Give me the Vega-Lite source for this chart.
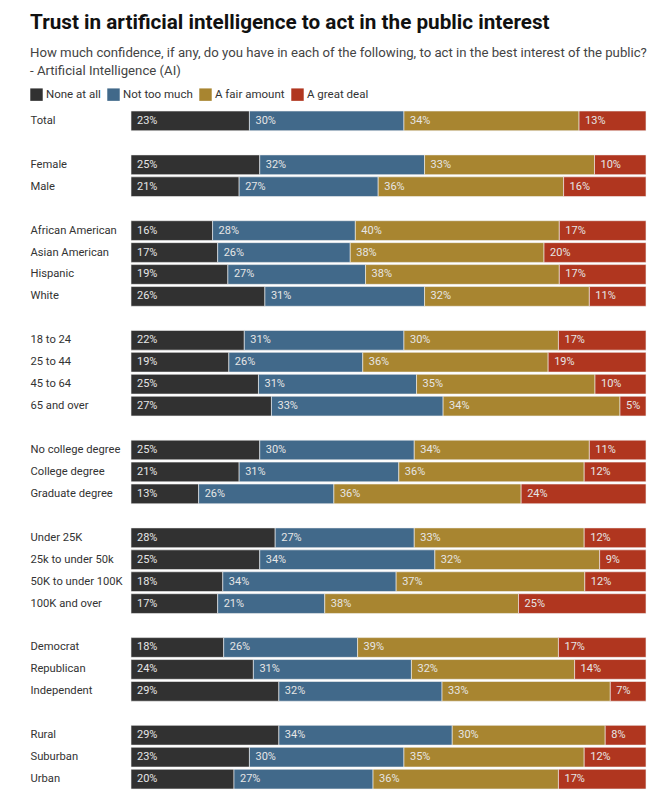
{
  "$schema": "https://vega.github.io/schema/vega-lite/v6.json",
  "width": 515,
  "height": 678,
  "autosize": {"type": "none"},
  "padding": {"left": 131, "top": 111, "right": 23, "bottom": 11},
  "background": "white",
  "config": {"font": "Roboto", "view": {"stroke": null}},
  "title": {
    "text": "Trust in artificial intelligence to act in the public interest",
    "subtitle": ["How much confidence, if any, do you have in each of the following, to act in the best interest of the public?", "- Artificial Intelligence (AI)"],
    "anchor": "start",
    "frame": "group",
    "dx": -101,
    "fontSize": 20.7,
    "fontWeight": "bold",
    "color": "#111111",
    "subtitleFontSize": 13.2,
    "subtitleColor": "#444444",
    "subtitleLineHeight": 18,
    "subtitlePadding": 13,
    "offset": 10
  },
  "data": {"values": [
    {"row": "Total", "cat": "None at all", "o": 1, "v": 23}, {"row": "Total", "cat": "Not too much", "o": 2, "v": 30}, {"row": "Total", "cat": "A fair amount", "o": 3, "v": 34}, {"row": "Total", "cat": "A great deal", "o": 4, "v": 13},
    {"row": "Female", "cat": "None at all", "o": 1, "v": 25}, {"row": "Female", "cat": "Not too much", "o": 2, "v": 32}, {"row": "Female", "cat": "A fair amount", "o": 3, "v": 33}, {"row": "Female", "cat": "A great deal", "o": 4, "v": 10},
    {"row": "Male", "cat": "None at all", "o": 1, "v": 21}, {"row": "Male", "cat": "Not too much", "o": 2, "v": 27}, {"row": "Male", "cat": "A fair amount", "o": 3, "v": 36}, {"row": "Male", "cat": "A great deal", "o": 4, "v": 16},
    {"row": "African American", "cat": "None at all", "o": 1, "v": 16}, {"row": "African American", "cat": "Not too much", "o": 2, "v": 28}, {"row": "African American", "cat": "A fair amount", "o": 3, "v": 40}, {"row": "African American", "cat": "A great deal", "o": 4, "v": 17},
    {"row": "Asian American", "cat": "None at all", "o": 1, "v": 17}, {"row": "Asian American", "cat": "Not too much", "o": 2, "v": 26}, {"row": "Asian American", "cat": "A fair amount", "o": 3, "v": 38}, {"row": "Asian American", "cat": "A great deal", "o": 4, "v": 20},
    {"row": "Hispanic", "cat": "None at all", "o": 1, "v": 19}, {"row": "Hispanic", "cat": "Not too much", "o": 2, "v": 27}, {"row": "Hispanic", "cat": "A fair amount", "o": 3, "v": 38}, {"row": "Hispanic", "cat": "A great deal", "o": 4, "v": 17},
    {"row": "White", "cat": "None at all", "o": 1, "v": 26}, {"row": "White", "cat": "Not too much", "o": 2, "v": 31}, {"row": "White", "cat": "A fair amount", "o": 3, "v": 32}, {"row": "White", "cat": "A great deal", "o": 4, "v": 11},
    {"row": "18 to 24", "cat": "None at all", "o": 1, "v": 22}, {"row": "18 to 24", "cat": "Not too much", "o": 2, "v": 31}, {"row": "18 to 24", "cat": "A fair amount", "o": 3, "v": 30}, {"row": "18 to 24", "cat": "A great deal", "o": 4, "v": 17},
    {"row": "25 to 44", "cat": "None at all", "o": 1, "v": 19}, {"row": "25 to 44", "cat": "Not too much", "o": 2, "v": 26}, {"row": "25 to 44", "cat": "A fair amount", "o": 3, "v": 36}, {"row": "25 to 44", "cat": "A great deal", "o": 4, "v": 19},
    {"row": "45 to 64", "cat": "None at all", "o": 1, "v": 25}, {"row": "45 to 64", "cat": "Not too much", "o": 2, "v": 31}, {"row": "45 to 64", "cat": "A fair amount", "o": 3, "v": 35}, {"row": "45 to 64", "cat": "A great deal", "o": 4, "v": 10},
    {"row": "65 and over", "cat": "None at all", "o": 1, "v": 27}, {"row": "65 and over", "cat": "Not too much", "o": 2, "v": 33}, {"row": "65 and over", "cat": "A fair amount", "o": 3, "v": 34}, {"row": "65 and over", "cat": "A great deal", "o": 4, "v": 5},
    {"row": "No college degree", "cat": "None at all", "o": 1, "v": 25}, {"row": "No college degree", "cat": "Not too much", "o": 2, "v": 30}, {"row": "No college degree", "cat": "A fair amount", "o": 3, "v": 34}, {"row": "No college degree", "cat": "A great deal", "o": 4, "v": 11},
    {"row": "College degree", "cat": "None at all", "o": 1, "v": 21}, {"row": "College degree", "cat": "Not too much", "o": 2, "v": 31}, {"row": "College degree", "cat": "A fair amount", "o": 3, "v": 36}, {"row": "College degree", "cat": "A great deal", "o": 4, "v": 12},
    {"row": "Graduate degree", "cat": "None at all", "o": 1, "v": 13}, {"row": "Graduate degree", "cat": "Not too much", "o": 2, "v": 26}, {"row": "Graduate degree", "cat": "A fair amount", "o": 3, "v": 36}, {"row": "Graduate degree", "cat": "A great deal", "o": 4, "v": 24},
    {"row": "Under 25K", "cat": "None at all", "o": 1, "v": 28}, {"row": "Under 25K", "cat": "Not too much", "o": 2, "v": 27}, {"row": "Under 25K", "cat": "A fair amount", "o": 3, "v": 33}, {"row": "Under 25K", "cat": "A great deal", "o": 4, "v": 12},
    {"row": "25k to under 50k", "cat": "None at all", "o": 1, "v": 25}, {"row": "25k to under 50k", "cat": "Not too much", "o": 2, "v": 34}, {"row": "25k to under 50k", "cat": "A fair amount", "o": 3, "v": 32}, {"row": "25k to under 50k", "cat": "A great deal", "o": 4, "v": 9},
    {"row": "50K to under 100K", "cat": "None at all", "o": 1, "v": 18}, {"row": "50K to under 100K", "cat": "Not too much", "o": 2, "v": 34}, {"row": "50K to under 100K", "cat": "A fair amount", "o": 3, "v": 37}, {"row": "50K to under 100K", "cat": "A great deal", "o": 4, "v": 12},
    {"row": "100K and over", "cat": "None at all", "o": 1, "v": 17}, {"row": "100K and over", "cat": "Not too much", "o": 2, "v": 21}, {"row": "100K and over", "cat": "A fair amount", "o": 3, "v": 38}, {"row": "100K and over", "cat": "A great deal", "o": 4, "v": 25},
    {"row": "Democrat", "cat": "None at all", "o": 1, "v": 18}, {"row": "Democrat", "cat": "Not too much", "o": 2, "v": 26}, {"row": "Democrat", "cat": "A fair amount", "o": 3, "v": 39}, {"row": "Democrat", "cat": "A great deal", "o": 4, "v": 17},
    {"row": "Republican", "cat": "None at all", "o": 1, "v": 24}, {"row": "Republican", "cat": "Not too much", "o": 2, "v": 31}, {"row": "Republican", "cat": "A fair amount", "o": 3, "v": 32}, {"row": "Republican", "cat": "A great deal", "o": 4, "v": 14},
    {"row": "Independent", "cat": "None at all", "o": 1, "v": 29}, {"row": "Independent", "cat": "Not too much", "o": 2, "v": 32}, {"row": "Independent", "cat": "A fair amount", "o": 3, "v": 33}, {"row": "Independent", "cat": "A great deal", "o": 4, "v": 7},
    {"row": "Rural", "cat": "None at all", "o": 1, "v": 29}, {"row": "Rural", "cat": "Not too much", "o": 2, "v": 34}, {"row": "Rural", "cat": "A fair amount", "o": 3, "v": 30}, {"row": "Rural", "cat": "A great deal", "o": 4, "v": 8},
    {"row": "Suburban", "cat": "None at all", "o": 1, "v": 23}, {"row": "Suburban", "cat": "Not too much", "o": 2, "v": 30}, {"row": "Suburban", "cat": "A fair amount", "o": 3, "v": 35}, {"row": "Suburban", "cat": "A great deal", "o": 4, "v": 12},
    {"row": "Urban", "cat": "None at all", "o": 1, "v": 20}, {"row": "Urban", "cat": "Not too much", "o": 2, "v": 27}, {"row": "Urban", "cat": "A fair amount", "o": 3, "v": 36}, {"row": "Urban", "cat": "A great deal", "o": 4, "v": 17}
  ]},
  "transform": [
    {"stack": "v", "groupby": ["row"], "sort": [{"field": "o", "order": "ascending"}], "offset": "normalize", "as": ["x0", "x1"]},
    {"calculate": "datum.v + '%'", "as": "lab"}
  ],
  "encoding": {
    "y": {
      "field": "row",
      "type": "nominal",
      "scale": {
        "domain": ["Total", "_1", "Female", "Male", "_2", "African American", "Asian American", "Hispanic", "White", "_3", "18 to 24", "25 to 44", "45 to 64", "65 and over", "_4", "No college degree", "College degree", "Graduate degree", "_5", "Under 25K", "25k to under 50k", "50K to under 100K", "100K and over", "_6", "Democrat", "Republican", "Independent", "_7", "Rural", "Suburban", "Urban"],
        "paddingInner": 0.1,
        "paddingOuter": 0
      },
      "axis": {
        "title": null,
        "domain": false,
        "ticks": false,
        "labelAlign": "left",
        "labelPadding": 101,
        "labelFontSize": 11.2,
        "labelColor": "#333333",
        "labelFont": "Roboto",
        "labelExpr": "indexof(datum.value, '_') == 0 ? '' : datum.value"
      }
    }
  },
  "layer": [
    {
      "mark": {"type": "bar", "stroke": "#f2f2f2", "strokeWidth": 0.6},
      "encoding": {
        "x": {"field": "x0", "type": "quantitative", "scale": {"domain": [0, 1], "nice": false}, "axis": null},
        "x2": {"field": "x1"},
        "color": {
          "field": "cat",
          "type": "nominal",
          "scale": {
            "domain": ["None at all", "Not too much", "A fair amount", "A great deal"],
            "range": ["#313131", "#41698a", "#a88530", "#b0361f"]
          },
          "legend": {
            "title": null,
            "orient": "none",
            "legendX": -101,
            "legendY": -23,
            "direction": "horizontal",
            "symbolType": "square",
            "symbolSize": 155,
            "symbolStrokeWidth": 0,
            "labelFontSize": 11.5,
            "labelColor": "#333333",
            "labelFont": "Roboto",
            "labelOffset": 3,
            "columnPadding": 6
          }
        }
      }
    },
    {
      "mark": {"type": "text", "align": "left", "baseline": "middle", "dx": 6, "fontSize": 11, "color": "#e6e6e6", "font": "Roboto"},
      "encoding": {
        "x": {"field": "x0", "type": "quantitative"},
        "text": {"field": "lab", "type": "nominal"}
      }
    }
  ]
}
